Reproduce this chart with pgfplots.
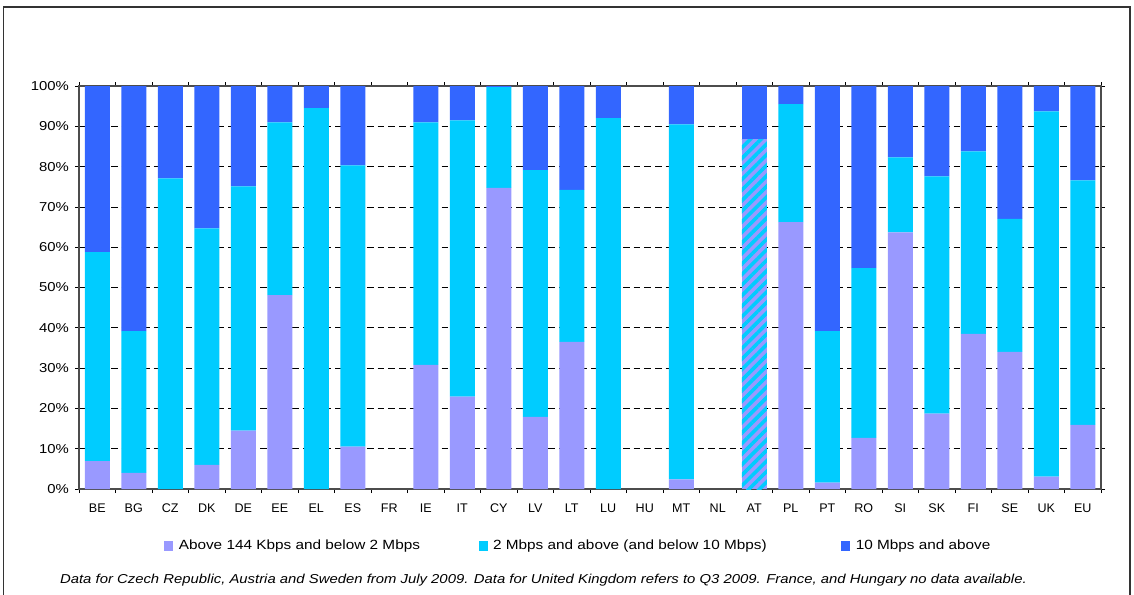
\documentclass[border=0pt]{standalone}
\usepackage{fontspec}
\setmainfont{Liberation Sans}[FakeStretch=1.15]
\newfontfamily\plainsans{Liberation Sans}
\usepackage{pgfplots}
\pgfplotsset{compat=1.18}
\usepackage{pgfplotstable}
\usetikzlibrary{patterns.meta}
\definecolor{cpurple}{HTML}{9999FF}
\definecolor{ccyan}{HTML}{00CCFF}
\definecolor{cblue}{HTML}{3366FF}

\pgfplotstableread{
x  low  mid  high hat  hb
0  6.9  51.9 41.2 0    0
1  4.0  35.2 60.8 0    0
2  0    77.1 22.9 0    0
3  6.0  58.7 35.3 0    0
4  14.5 60.6 24.9 0    0
5  48.1 42.9 9.0  0    0
6  0    94.5 5.5  0    0
7  10.5 69.8 19.7 0    0
8  0    0    0    0    0
9  30.8 60.2 9.0  0    0
10 22.9 68.6 8.5  0    0
11 74.7 25.0 0.3  0    0
12 17.9 61.2 20.9 0    0
13 36.5 37.7 25.8 0    0
14 0    92.0 8.0  0    0
15 0    0    0    0    0
16 2.4  88.1 9.5  0    0
17 0    0    0    0    0
18 0    0    0    86.8 13.2
19 66.2 29.3 4.5  0    0
20 1.6  37.6 60.8 0    0
21 12.7 42.1 45.2 0    0
22 63.7 18.6 17.7 0    0
23 18.7 58.9 22.4 0    0
24 38.5 45.3 16.2 0    0
25 34.0 33.0 33.0 0    0
26 3.1  90.6 6.3  0    0
27 15.9 60.7 23.4 0    0
}\data

\begin{document}
\begin{tikzpicture}
\useasboundingbox (0,0) rectangle (850.5pt,445.5pt);
\begin{axis}[
  at={(59.25pt,78.75pt)}, anchor=south west,
  scale only axis, width=766.5pt, height=302.25pt,
  ybar stacked, bar width=18.75pt,
  xmin=-0.5, xmax=27.5, ymin=0, ymax=100,
  xtick={0,...,27},
  xticklabels={BE,BG,CZ,DK,DE,EE,EL,ES,FR,IE,IT,CY,LV,LT,LU,HU,MT,NL,AT,PL,PT,RO,SI,SK,FI,SE,UK,EU},
  major x tick style={draw=none},
  minor xtick={-0.5,0.5,...,27.5},
  tick align=outside,
  minor tick length=3pt, major tick length=3pt,
  ytick={0,10,...,100},
  yticklabels={0\%,10\%,20\%,30\%,40\%,50\%,60\%,70\%,80\%,90\%,100\%},
  ymajorgrids,
  grid style={black, dash pattern=on 5pt off 3pt, line width=0.6pt},
  axis line style={gray!60!black, line width=0.8pt},
  tick style={black, line width=0.6pt},
  xticklabel style={font=\plainsans\fontsize{9.4pt}{11pt}\selectfont, yshift=-4.5pt},
  yticklabel style={font=\fontsize{9.7pt}{11pt}\selectfont, xshift=-1pt},
  legend columns=3,
  legend style={at={(0.489,-0.1414)}, anchor=center, draw=none, fill=none,
    font=\fontsize{10pt}{12pt}\selectfont,
    /tikz/every odd column/.style={column sep=2pt},
    /tikz/column 2/.style={column sep=42pt},
    /tikz/column 4/.style={column sep=54pt}},
  legend image code/.code={\fill[#1,draw=none] (0pt,-3.4pt) rectangle (6.8pt,3.4pt);},
]
\addplot[fill=cpurple, draw=none] table[x=x,y=low]{\data};
\addplot[fill=ccyan, draw=none] table[x=x,y=mid]{\data};
\addplot[fill=cblue, draw=none] table[x=x,y=high]{\data};
\addplot[fill=cpurple, draw=none, postaction={pattern={Lines[angle=45,distance=5.6pt,line width=2.7pt]}, pattern color=ccyan}] table[x=x,y=hat]{\data};
\addplot[fill=cblue, draw=none] table[x=x,y=hb]{\data};
\legend{Above 144 Kbps and below 2 Mbps, 2 Mbps and above (and below 10 Mbps), 10 Mbps and above}
\end{axis}
\draw[black!80, line width=1.1pt] (2.5pt,-5pt) -- (2.5pt,440.25pt) -- (847.5pt,440.25pt) -- (847.5pt,-5pt);
\node[font=\itshape\fontsize{9.7pt}{11pt}\selectfont] at (407.6pt,10.5pt) {Data for Czech Republic, Austria and Sweden from July 2009. Data for United Kingdom refers to Q3 2009. France, and Hungary no data available.};
\end{tikzpicture}
\end{document}
